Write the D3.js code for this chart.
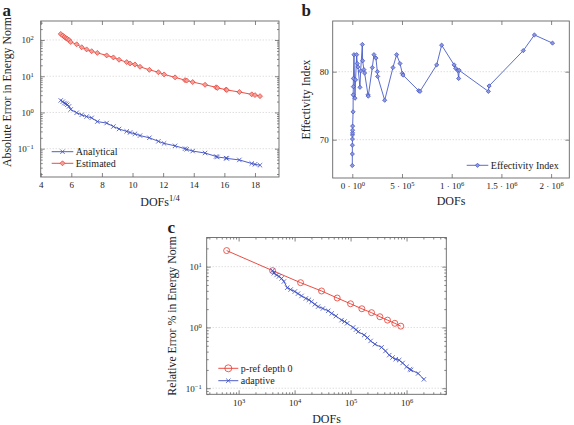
<!DOCTYPE html>
<html><head><meta charset="utf-8">
<script src="https://cdn.jsdelivr.net/npm/d3@7"></script>
<style>
body{margin:0;background:#fff}
svg{display:block}
text{font-family:"Liberation Serif","Times New Roman",serif;fill:#222}
</style>
</head><body>
<svg id="chart" width="574" height="425"></svg>
<script>
// ---------------- data ----------------
// Panel a: x = DOFs^(1/4)
const aX = [5.31,5.44,5.55,5.65,5.74,5.85,5.96,6.35,6.68,7.0,7.33,7.7,8.31,8.75,9.12,9.62,9.84,10.16,10.49,11.1,11.69,12.06,12.78,13.43,13.54,13.93,14.74,15.46,15.54,16.11,16.16,16.98,17.79,18.0,18.33];
const aEstimated = [147,132,121,113,107,100,88,76,63,55,49,44,37.5,33,28.5,24.5,22.5,21.1,18.2,15.0,12.9,11.2,9.3,7.8,7.6,6.9,5.8,4.95,4.75,4.27,4.17,3.67,3.16,3.02,2.82];
const aAnalytical = [2.15,1.98,1.82,1.74,1.63,1.47,1.21,0.98,0.86,0.77,0.71,0.56,0.51,0.41,0.35,0.30,0.28,0.257,0.23,0.20,0.16,0.14,0.12,0.10,0.096,0.086,0.076,0.061,0.059,0.055,0.054,0.049,0.039,0.037,0.035];
const aXTicks = [4,6,8,10,12,14,16,18];
const aYTicks = [0.1,1,10,100];

// Panel b: effectivity index vs DOFs
const bDOFs = [0,500,1000,1500,2000,2500,3000,3500,8000,9000,10500,11000,17000,27000,33000,44000,50000,57000,77000,84000,101000,104000,117000,124000,158000,161000,201000,218000,238000,252000,255000,326000,409000,446000,480000,503000,510000,668000,681000,849000,899000,1024000,1040000,1060000,1070000,1075000,1369000,1376000,1720000,1832000,2014000];
const bEff = [66.2,67.9,69.2,70.1,70.7,71.0,71.4,72.0,74.1,76.6,77.8,79.0,82.5,76.1,78.8,82.5,81.2,80.7,77.7,80.1,84.0,81.6,80.3,79.8,76.6,76.4,80.6,82.5,82.0,80.0,79.3,75.8,80.6,82.5,81.2,79.75,79.5,77.2,77.1,81.0,83.9,81.0,80.5,80.2,79.0,80.2,77.1,77.9,83.1,85.4,84.2];
const bXTicks = [0,5e5,1e6,1.5e6,2e6];
const bXTickMant = ["0","5","1","1.5","2"];
const bXTickExp = ["0","5","6","6","6"];
const bYTicks = [70,80];

// Panel c: relative error vs DOFs
const cPrefDOFs = [611,4045,12800,30300,57700,100000,159000,237000,334000,457000,617000,790000];
const cPrefErr = [18.4,8.6,5.45,3.98,3.05,2.45,2.03,1.75,1.5,1.32,1.17,1.05];
const cAdaptDOFs = [4045,4270,4770,5250,5860,6440,7380,8500,10100,11500,13300,15900,18000,20100,23000,26300,32000,39800,46000,54600,69000,78000,87000,111000,125000,137000,175000,200000,228000,272000,358000,420000,490000,562000,640000,738000,850000,1000000,1150000,1200000,1610000,2040000];
const cAdaptErr = [8.6,7.8,7.3,6.9,6.4,5.7,4.5,4.2,3.9,3.6,3.3,3.0,2.85,2.65,2.4,2.2,2.05,1.88,1.7,1.54,1.32,1.25,1.17,1.0,0.92,0.85,0.75,0.68,0.6,0.53,0.47,0.41,0.35,0.32,0.30,0.29,0.26,0.225,0.205,0.20,0.175,0.14];
const cXTicks = [1e3,1e4,1e5,1e6];
const cYTicks = [0.1,1,10];

// ---------------- drawing ----------------
const svg = d3.select("#chart");
const BLUE = "#3b4cc0", BLUE_L = "#8d98e0", RED = "#e8392f", RED_L = "#f4a09a";
const FRAME = "#666", GRID = "#c4c4c4";
const FONT = "Liberation Serif, Times New Roman, serif";

function minorLog(dom){
  const lo = Math.min(dom[0],dom[1]), hi = Math.max(dom[0],dom[1]);
  const out = [];
  for (let e = Math.floor(Math.log10(lo)); e <= Math.ceil(Math.log10(hi)); e++)
    for (let m = 2; m <= 9; m++){ const v = m*Math.pow(10,e); if (v>=lo && v<=hi) out.push(v); }
  return out;
}
function supLabel(sel, parts){
  sel.selectAll(".tick text").each(function(d,i){
    const p = parts(d,i), t = d3.select(this);
    t.text(null);
    t.append("tspan").text(p[0]);
    t.append("tspan").attr("font-size",6.5).attr("dy","-0.45em").text(p[1]);
  });
}

function panel(c){
  const x = c.x, y = c.y;
  const [L,R] = x.range(), [B,T] = y.range();
  const g = svg.append("g");
  g.append("g").selectAll("line").data(c.yTicks).join("line")
    .attr("x1",L).attr("x2",R).attr("y1",d=>y(d)).attr("y2",d=>y(d))
    .attr("stroke",GRID).attr("stroke-width",0.8).attr("stroke-dasharray","1,2");
  const ax = (gen, tr, vals, size, fmt, pad) => {
    const a = g.append("g").attr("transform",tr)
      .call(gen.tickValues(vals).tickSizeInner(-size).tickSizeOuter(0).tickPadding(pad||3).tickFormat(fmt||(()=>"")));
    a.select(".domain").remove();
    a.selectAll("line").attr("stroke",FRAME).attr("stroke-width",0.8);
    a.attr("font-family",FONT).attr("font-size",9);
    return a;
  };
  const xb = ax(d3.axisBottom(x), `translate(0,${B})`, c.xTicks, 4, c.xFmt, c.xPad);
  ax(d3.axisTop(x), `translate(0,${T})`, c.xTicks, 4);
  const yl = ax(d3.axisLeft(y), `translate(${L},0)`, c.yTicks, 4, c.yFmt, c.yPad);
  ax(d3.axisRight(y), `translate(${R},0)`, c.yTicks, 4);
  if (c.xMinor){
    ax(d3.axisBottom(x), `translate(0,${B})`, minorLog(x.domain()), 2);
    ax(d3.axisTop(x), `translate(0,${T})`, minorLog(x.domain()), 2);
  }
  if (c.yMinor){
    ax(d3.axisLeft(y), `translate(${L},0)`, minorLog(y.domain()), 2);
    ax(d3.axisRight(y), `translate(${R},0)`, minorLog(y.domain()), 2);
  }
  if (c.xSup) supLabel(xb, c.xSup);
  if (c.ySup) supLabel(yl, c.ySup);
  g.append("rect").attr("x",L).attr("y",T).attr("width",R-L).attr("height",B-T)
    .attr("fill","none").attr("stroke",FRAME).attr("stroke-width",0.9);
  return g;
}

const crossPath = s => `M${-s},${-s}L${s},${s}M${-s},${s}L${s},${-s}`;
const diamondPath = s => `M0,${-s}L${s},0L0,${s}L${-s},0Z`;

function series(g, x, y, xs, ys, color, mark){
  const pts = xs.map((v,i)=>[v,ys[i]]);
  g.append("path").datum(pts).attr("fill","none").attr("stroke",color).attr("stroke-width",0.9)
    .attr("d", d3.line().x(d=>x(d[0])).y(d=>y(d[1])));
  drawMarks(g, pts.map(d=>[x(d[0]),y(d[1])]), mark);
}
function drawMarks(g, pxy, mark){
  const sel = g.append("g").selectAll("path").data(pxy).join("path")
    .attr("transform",d=>`translate(${d[0]},${d[1]})`);
  if (mark.type==="cross") sel.attr("d",crossPath(mark.s)).attr("stroke",mark.color).attr("stroke-width",0.8).attr("fill","none");
  if (mark.type==="diamond") sel.attr("d",diamondPath(mark.s)).attr("stroke",mark.color).attr("stroke-width",0.7).attr("fill",mark.fill);
  if (mark.type==="circle") sel.attr("d",d3.arc()({innerRadius:0,outerRadius:mark.s,startAngle:0,endAngle:2*Math.PI})).attr("stroke",mark.color).attr("stroke-width",0.8).attr("fill","none");
}
function legendRow(g, x0, x1, yy, color, mark, label){
  g.append("line").attr("x1",x0).attr("x2",x1).attr("y1",yy).attr("y2",yy).attr("stroke",color).attr("stroke-width",0.9);
  drawMarks(g, [[(x0+x1)/2, yy]], mark);
  g.append("text").attr("x",x1+2.5).attr("y",yy+3.3).attr("font-size",10).text(label);
}
function yLabel(xx, yy, txt){
  svg.append("text").attr("transform",`translate(${xx},${yy}) rotate(-90)`).attr("text-anchor","middle").attr("font-size",11.8).text(txt);
}
function panelLetter(xx, yy, t){
  svg.append("text").attr("x",xx).attr("y",yy).attr("font-size",17).attr("font-weight","bold").attr("fill","#111").text(t);
}

// ---- Panel a ----
{
  const x = d3.scaleLinear().domain([4,19.57]).range([40.7,279]);
  const y = d3.scaleLog().domain([0.01656,334]).range([177,21]);
  const g = panel({x,y,xTicks:aXTicks,yTicks:aYTicks,xFmt:d=>String(d),xPad:5,yPad:7,yMinor:true,
    ySup:d=>["10", String(Math.round(Math.log10(d))).replace("-","\u2212")]});
  series(g,x,y,aX,aEstimated,RED,{type:"diamond",s:2.5,color:RED,fill:RED_L});
  series(g,x,y,aX,aAnalytical,BLUE,{type:"cross",s:2.2,color:BLUE});
  legendRow(g,51.7,73.3,151.7,BLUE,{type:"cross",s:2.2,color:BLUE},"Analytical");
  legendRow(g,51.7,73.3,163.3,RED,{type:"diamond",s:2.5,color:RED,fill:RED_L},"Estimated");
  const t = svg.append("text").attr("x",160).attr("y",205.5).attr("text-anchor","middle").attr("font-size",12);
  t.append("tspan").text("DOFs");
  t.append("tspan").attr("font-size",8.5).attr("dy",-5).text("1/4");
  yLabel(10.5,92,"Absolute Error in Energy Norm");
  panelLetter(2.5,16,"a");
}

// ---- Panel b ----
{
  const x = d3.scaleLinear().domain([-1.97e5,2.183e6]).range([332.7,569.3]);
  const y = d3.scaleLinear().domain([64.37,87.45]).range([178,21]);
  const g = panel({x,y,xTicks:bXTicks,yTicks:bYTicks,yFmt:d=>String(d),xPad:5,yPad:4,
    xSup:(d,i)=>[bXTickMant[i]+" \u00b7 10", bXTickExp[i]]});
  series(g,x,y,bDOFs,bEff,"#4a5cc8",{type:"diamond",s:2.1,color:"#3b4cc0",fill:BLUE_L});
  legendRow(g,466.7,488.3,165.3,"#4a5cc8",{type:"diamond",s:2.1,color:"#3b4cc0",fill:BLUE_L},"Effectivity Index");
  svg.append("text").attr("x",451).attr("y",205).attr("text-anchor","middle").attr("font-size",12).text("DOFs");
  yLabel(309.5,99.5,"Effectivity Index");
  panelLetter(301.5,16.3,"b");
}

// ---- Panel c ----
{
  const x = d3.scaleLog().domain([269,5.13e6]).range([206.7,446.3]);
  const y = d3.scaleLog().domain([0.0794,30.2]).range([394.3,237.5]);
  const expFmt = d=>["10", String(Math.round(Math.log10(d))).replace("-","\u2212")];
  const g = panel({x,y,xTicks:cXTicks,yTicks:cYTicks,xPad:5,yPad:5,xMinor:true,yMinor:true,xSup:expFmt,ySup:expFmt});
  series(g,x,y,cPrefDOFs,cPrefErr,RED,{type:"circle",s:3,color:RED});
  series(g,x,y,cAdaptDOFs,cAdaptErr,BLUE,{type:"cross",s:2.2,color:BLUE});
  legendRow(g,218.3,238.3,368.3,RED,{type:"circle",s:3.5,color:RED},"p-ref depth 0");
  legendRow(g,218.3,238.3,380.7,BLUE,{type:"cross",s:2.2,color:BLUE},"adaptive");
  svg.append("text").attr("x",326.5).attr("y",423).attr("text-anchor","middle").attr("font-size",12).text("DOFs");
  yLabel(176,316,"Relative Error % in Energy Norm");
  panelLetter(167.5,232.7,"c");
}
</script>
</body></html>
